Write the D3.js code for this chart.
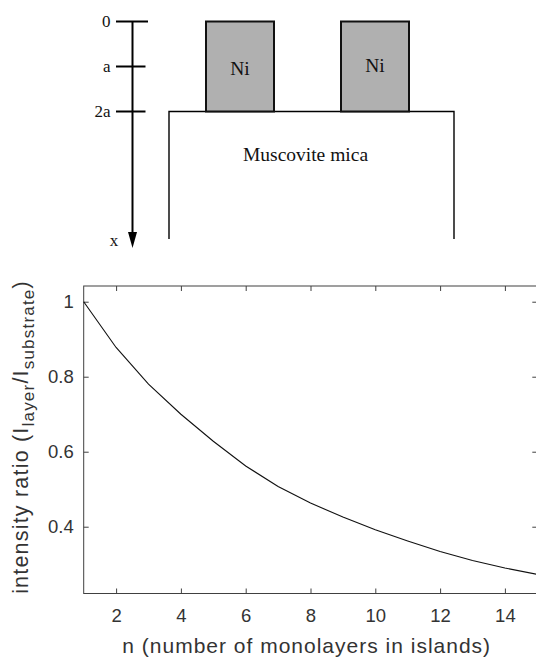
<!DOCTYPE html>
<html>
<head>
<meta charset="utf-8">
<script src="https://cdn.jsdelivr.net/npm/d3@7"></script>
<style>
  html, body { margin: 0; padding: 0; background: #fff; }
  svg { display: block; }
</style>
</head>
<body>
<script>
// ---------- data ----------
const nValues = [1, 2, 3, 4, 5, 6, 7, 8, 9, 10, 11, 12, 13, 14, 15];
const ratioValues = [1.000, 0.878, 0.780, 0.700, 0.628, 0.562, 0.507, 0.463, 0.426, 0.392, 0.362, 0.334, 0.310, 0.290, 0.273];
const xTicks = [2, 4, 6, 8, 10, 12, 14];
const yTicks = [0.4, 0.6, 0.8, 1];
const yTickLabels = ["0.4", "0.6", "0.8", "1"];
const depthTicks = [0, 1, 2];
const depthLabels = ["0", "a", "2a"];
const islandLabels = ["Ni", "Ni"];
const substrateLabel = "Muscovite mica";
const xTitle = "n (number of monolayers in islands)";

const W = 536, H = 657;
const svg = d3.select("body").append("svg").attr("width", W).attr("height", H);

// ---------- schematic ----------
const serif = "'Liberation Serif', 'Times New Roman', serif";
const yD = d3.scaleLinear().domain([0, 2]).range([21.5, 111.5]);
const xIsl = d3.scaleLinear().domain([0, 1]).range([206, 341]);
const islW = 68;
const axX = 132.5;
const diag = svg.append("g");

// substrate (open bottom)
diag.append("path")
  .attr("d", `M169,239 L169,${yD(2)} L454,${yD(2)} L454,239`)
  .attr("fill", "none").attr("stroke", "#000").attr("stroke-width", 1.4);

// islands
diag.selectAll("rect.isl").data(islandLabels).join("rect")
  .attr("class", "isl")
  .attr("x", (d, i) => xIsl(i)).attr("y", yD(0))
  .attr("width", islW).attr("height", yD(2) - yD(0))
  .attr("fill", "#b0b0b0").attr("stroke", "#111").attr("stroke-width", 2);
diag.selectAll("text.isl").data(islandLabels).join("text")
  .attr("class", "isl")
  .attr("x", (d, i) => xIsl(i) + islW / 2)
  .attr("y", (d, i) => i === 0 ? 74.5 : 72)
  .attr("text-anchor", "middle")
  .attr("font-family", serif).attr("font-size", 19.5).attr("fill", "#111")
  .text(d => d);

diag.append("text")
  .attr("x", 305.5).attr("y", 161)
  .attr("text-anchor", "middle")
  .attr("font-family", serif).attr("font-size", 19.5).attr("fill", "#111")
  .text(substrateLabel);

// depth axis
diag.append("line")
  .attr("x1", axX).attr("x2", axX).attr("y1", yD(0)).attr("y2", 236)
  .attr("stroke", "#000").attr("stroke-width", 2);
diag.append("path")
  .attr("d", `M${axX - 4.5},232 L${axX + 4.5},232 L${axX},248 Z`)
  .attr("fill", "#000");
diag.selectAll("line.dt").data(depthTicks).join("line")
  .attr("class", "dt")
  .attr("x1", 116).attr("x2", (d, i) => i === 0 ? 148 : 145.5)
  .attr("y1", d => yD(d)).attr("y2", d => yD(d))
  .attr("stroke", "#000").attr("stroke-width", 2);
diag.selectAll("text.dt").data(depthTicks).join("text")
  .attr("class", "dt")
  .attr("x", 110.5).attr("y", d => yD(d) + 5)
  .attr("text-anchor", "end")
  .attr("font-family", serif).attr("font-size", 17).attr("fill", "#111")
  .text((d, i) => depthLabels[i]);
diag.append("text")
  .attr("x", 114).attr("y", 245.5)
  .attr("text-anchor", "middle")
  .attr("font-family", serif).attr("font-size", 17).attr("fill", "#111")
  .text("x");

// ---------- chart ----------
const sans = "'Liberation Sans', Arial, Helvetica, sans-serif";
const axisColor = "#404040";
const textColor = "#333";
const x = d3.scaleLinear().domain([1, 15]).range([83.7, 537.3]);
const y = d3.scaleLinear().domain([0.2219, 1.0419]).range([593.5, 286]);
const [x0, x1] = x.range();
const [y0, y1] = y.range();

const chart = svg.append("g");

// box
chart.append("rect")
  .attr("x", x0).attr("y", y1).attr("width", x1 - x0).attr("height", y0 - y1)
  .attr("fill", "none").attr("stroke", axisColor).attr("stroke-width", 1);

const tl = 5;
const xAxisB = d3.axisBottom(x).tickValues(xTicks).tickSizeInner(-tl).tickSizeOuter(0).tickPadding(10);
const gxb = chart.append("g").attr("transform", `translate(0,${y0})`).call(xAxisB);
const xAxisT = d3.axisTop(x).tickValues(xTicks).tickSizeInner(-tl).tickSizeOuter(0).tickFormat("");
const gxt = chart.append("g").attr("transform", `translate(0,${y1})`).call(xAxisT);
const yAxisL = d3.axisLeft(y).tickValues(yTicks).tickSizeInner(-tl).tickSizeOuter(0).tickPadding(10)
  .tickFormat((d, i) => yTickLabels[i]);
const gyl = chart.append("g").attr("transform", `translate(${x0},0)`).call(yAxisL);
const yAxisR = d3.axisRight(y).tickValues(yTicks).tickSizeInner(-tl).tickSizeOuter(0).tickFormat("");
const gyr = chart.append("g").attr("transform", `translate(${x1},0)`).call(yAxisR);

[gxb, gxt, gyl, gyr].forEach(g => {
  g.select(".domain").remove();
  g.selectAll(".tick line").attr("stroke", axisColor).attr("stroke-width", 1);
  g.selectAll(".tick text").attr("font-family", sans).attr("font-size", 18.5)
    .attr("fill", textColor);
});
gxb.selectAll(".tick text").attr("dy", null).attr("y", 28.5);

// curve
chart.append("path")
  .datum(nValues.map((n, i) => [n, ratioValues[i]]))
  .attr("d", d3.line().x(d => x(d[0])).y(d => y(d[1])))
  .attr("fill", "none").attr("stroke", "#111").attr("stroke-width", 1.1);

// x title
chart.append("text")
  .attr("x", 306.7).attr("y", 653)
  .attr("text-anchor", "middle")
  .attr("font-family", sans).attr("font-size", 21).attr("fill", textColor)
  .attr("letter-spacing", 1)
  .text(xTitle);

// y title with subscripts
const yt = chart.append("text")
  .attr("transform", `translate(28,437) rotate(-90)`)
  .attr("text-anchor", "middle")
  .attr("font-family", sans).attr("font-size", 21.5).attr("fill", textColor)
  .attr("letter-spacing", 1.2);
yt.append("tspan").text("intensity ratio (I");
yt.append("tspan").attr("dy", 5.5).attr("font-size", 17).text("layer");
yt.append("tspan").attr("dy", -5.5).text("/I");
yt.append("tspan").attr("dy", 5.5).attr("font-size", 17).text("substrate");
yt.append("tspan").attr("dy", -5.5).text(")");
</script>
</body>
</html>
